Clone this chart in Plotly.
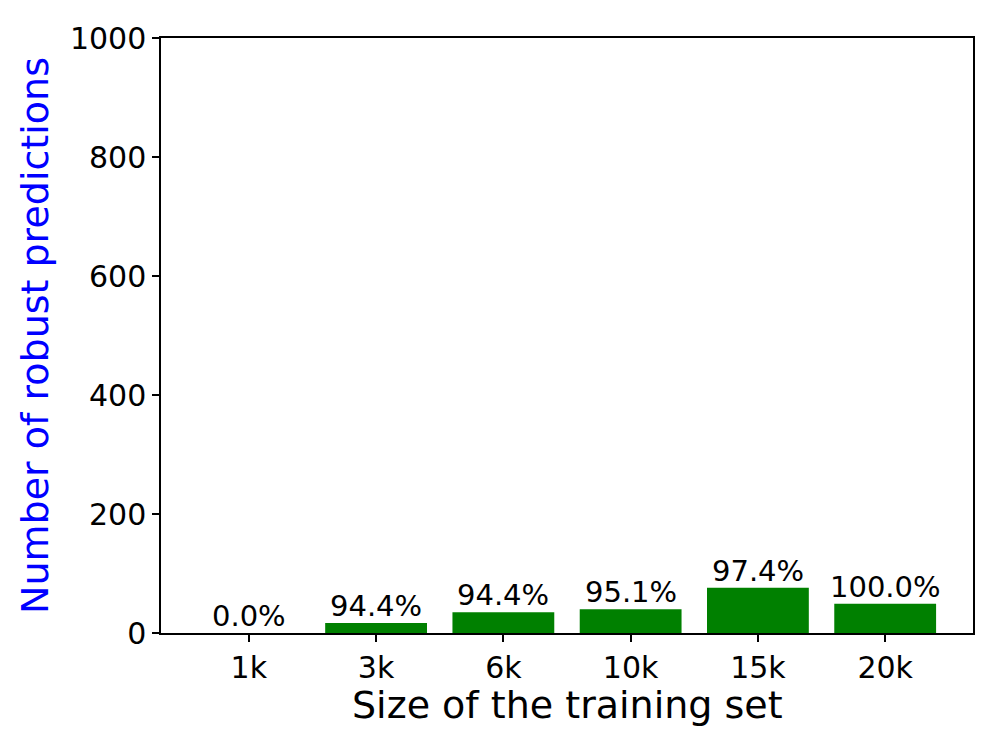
import plotly.graph_objects as go

# Données
sizes = ["1k", "3k", "6k", "10k", "15k", "20k"]
robust_counts = [0, 17, 35, 40, 76, 49]
robust_pct = ["0.0%", "94.4%", "94.4%", "95.1%", "97.4%", "100.0%"]
y_ticks = [0, 200, 400, 600, 800, 1000]

font_family = "DejaVu Sans"

fig = go.Figure()
fig.add_trace(
    go.Bar(
        x=list(range(len(sizes))),
        y=robust_counts,
        width=0.8,
        marker={"color": "green", "line": {"width": 0}},
        showlegend=False,
    )
)

# Pourcentages au-dessus des barres
for i, (v, label) in enumerate(zip(robust_counts, robust_pct)):
    fig.add_annotation(
        x=i,
        y=v,
        text=label,
        showarrow=False,
        yanchor="bottom",
        yshift=-2,
        font={"family": font_family, "size": 29, "color": "black"},
    )

# Titre de l'axe X placé à la main (un peu plus haut que le titre d'axe plotly)
fig.add_annotation(
    x=0.5,
    y=0,
    xref="paper",
    yref="paper",
    text="Size of the training set",
    showarrow=False,
    yanchor="top",
    yshift=-48,
    font={"family": font_family, "size": 38, "color": "black"},
)

axis_common = {
    "showline": True,
    "linecolor": "black",
    "linewidth": 1.5,
    "mirror": True,
    "ticks": "outside",
    "ticklen": 7,
    "tickwidth": 1.5,
    "tickcolor": "black",
    "showgrid": False,
    "zeroline": False,
    "tickfont": {"family": font_family, "size": 30, "color": "black"},
}

fig.update_xaxes(
    **axis_common,
    range=[-0.69, 5.69],
    tickmode="array",
    tickvals=list(range(len(sizes))),
    ticktext=sizes,
)
fig.update_yaxes(
    **axis_common,
    range=[0, 1000],
    tickmode="array",
    tickvals=y_ticks,
    title={"text": "Number of robust predictions", "font": {"family": font_family, "size": 38, "color": "blue"}, "standoff": 10},
)

# la page ajoute ~8 px de marge autour de la figure
fig.update_layout(
    width=980,
    height=731,
    margin={"l": 153, "r": 15, "t": 27, "b": 106},
    plot_bgcolor="white",
    paper_bgcolor="white",
    font={"family": font_family},
)

fig.write_html("out.html")
